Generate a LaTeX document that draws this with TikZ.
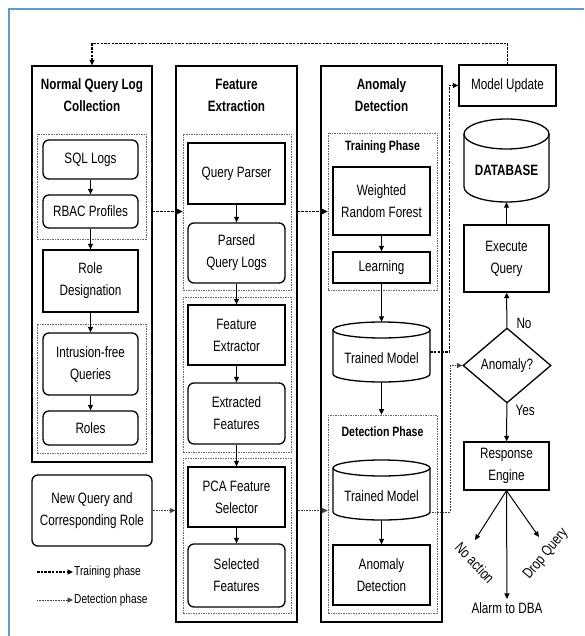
\documentclass[tikz,border=0pt]{standalone}
\usepackage{fontspec}
\setmainfont{Liberation Sans}[FakeStretch=0.78]
\usetikzlibrary{arrows.meta,shapes.geometric,calc}
\definecolor{frameblue}{RGB}{91,155,213}
\newcommand\myfs{\fontsize{15}{22}\selectfont}
\newcommand\mysm{\fontsize{13}{17}\selectfont}
\newcommand\mygl{\fontsize{13.5}{17}\selectfont}
\newcommand\drawcyl[5]{% cx, top, w, h, ry
  \draw[cylline, fill=white] (#1-#3/2,#2+#5) -- (#1-#3/2,#2+#4-#5)
     arc[start angle=180,end angle=360,x radius={#3*0.5pt},y radius={#5*1pt}] -- (#1+#3/2,#2+#5);
  \draw[cylline, fill=white] (#1,#2+#5) ellipse[x radius={#3*0.5pt},y radius={#5*1pt}];
}
\tikzset{
 pbox/.style={draw, line width=1.3pt, align=center, font=\myfs, inner sep=2pt},
 rbox/.style={pbox, rounded corners=6pt},
 sz/.style 2 args={minimum width=#1pt, minimum height=#2pt},
 colbox/.style={draw, line width=1.3pt},
 grp/.style={draw, black!60, line width=0.6pt, dash pattern=on 1.5pt off 1pt},
 coltitle/.style={font=\bfseries\myfs, align=center},
 grplabel/.style={font=\bfseries\mygl},
 arr/.style={-{Triangle[length=5.5pt,width=5pt]}, line width=1pt},
 train/.style={-{Triangle[length=5.5pt,width=5pt]}, line width=1.1pt, dash pattern=on 2.5pt off 1.2pt},
 detect/.style={-{Triangle[length=5.5pt,width=5pt]}, line width=0.8pt, dash pattern=on 0.8pt off 0.8pt, draw=black!75},
 cylline/.style={line width=1.3pt},
 cyl/.style={align=center, font=\myfs, inner sep=0pt},
}
\begin{document}
\begin{tikzpicture}[x=1pt,y=-1pt]
\useasboundingbox (0,0) rectangle (584,636);
\draw[frameblue, line width=2pt] (9,636) -- (9,9) -- (584,9);

% column 1
\node[colbox, sz={120}{396}] (c1) at (92,264) {};
\node[coltitle] (t1) at (92,95) {Normal Query Log\\Collection};
\node[grp, sz={109}{105}] (g1) at (91.5,186.5) {};
\node[rbox, sz={95}{39}] (sql) at (90.5,159.5) {SQL Logs};
\node[rbox, sz={95}{33}] (rbac) at (90.5,211.5) {RBAC Profiles};
\node[pbox, sz={95}{62}] (role) at (90.5,281) {Role\\Designation};
\node[grp, sz={109}{129}] (g2) at (91.5,388.5) {};
\node[rbox, sz={95}{62}] (intr) at (90.5,364) {Intrusion-free\\Queries};
\node[rbox, sz={95}{34}] (roles) at (90.5,428) {Roles};
\node[rbox, sz={120}{71}] (newq) at (92,510.5) {New Query and\\Corresponding Role};

% column 2
\node[colbox, sz={121}{556}] (c2) at (236.5,344) {};
\node[coltitle] (t2) at (236.5,95) {Feature\\Extraction};
\node[grp, sz={108}{156}] (ga) at (237,212) {};
\node[pbox, sz={97}{61}] (qp) at (236.5,173.5) {Query Parser};
\node[rbox, sz={97}{60}] (pql) at (236.5,253) {Parsed\\Query Logs};
\node[grp, sz={108}{155}] (gb) at (237,374.5) {};
\node[pbox, sz={97}{60}] (fe) at (236.5,335) {Feature\\Extractor};
\node[rbox, sz={97}{61}] (ef) at (236.5,413.5) {Extracted\\Features};
\node[grp, sz={108}{155}] (gc) at (237,535.5) {};
\node[pbox, sz={97}{60}] (pca) at (236.5,497) {PCA Feature\\Selector};
\node[rbox, sz={97}{63}] (sf) at (236.5,575.5) {Selected\\Features};

% column 3
\node[colbox, sz={121}{556}] (c3) at (381.5,344) {};
\node[coltitle] (t3) at (381.5,95) {Anomaly\\Detection};
\node[grp, sz={109}{157}] (gtr) at (382.5,211.5) {};
\node[grplabel] (ltr) at (382.5,147) {Training Phase};
\node[pbox, sz={97}{68}] (wrf) at (381.5,201) {Weighted\\Random Forest};
\node[pbox, sz={97}{31}] (learn) at (381.5,267.5) {Learning};
\drawcyl{381.5}{322}{97}{60}{8}
\node[cyl, sz={97}{60}, text height=23pt, text depth=0pt] (tm1) at (381.5,352) {Trained Model};
\node[grp, sz={109}{198}] (gdet) at (382.5,514) {};
\node[grplabel] (ldet) at (382.5,432) {Detection Phase};
\drawcyl{381.5}{460}{97}{60}{8}
\node[cyl, sz={97}{60}, text height=23pt, text depth=0pt] (tm2) at (381.5,490) {Trained Model};
\node[pbox, sz={97}{60}] (ad) at (381.5,575) {Anomaly\\Detection};

% column 4
\node[pbox, sz={97}{41}] (mu) at (507.5,85.5) {Model Update};
\drawcyl{506.5}{119}{85}{83}{15}
\node[cyl, sz={85}{83}, font=\bfseries\myfs, text height=30pt, text depth=0pt] (db) at (506.5,160.5) {DATABASE};
\node[pbox, sz={85}{67}] (ex) at (506.5,258.5) {Execute\\Query};
\node[diamond, draw, line width=1.3pt, sz={88}{75}, aspect=1.17, inner sep=0pt, font=\myfs] (dia) at (507,365.5) {Anomaly?};
\node[pbox, sz={85}{48}] (re) at (506.5,466) {Response\\Engine};
\node[font=\myfs] (alarm) at (507,608) {Alarm to DBA};
\coordinate (na) at (475,540);
\coordinate (dq) at (539,537);
\node[font=\myfs, rotate=-47, inner sep=0pt] (lna) at (475,563) {No action};
\node[font=\myfs, rotate=50, inner sep=0pt] (ldq) at (546,554) {Drop Query};
\node[font=\myfs, anchor=west] (lno) at (513,323) {No};
\node[font=\myfs, anchor=west] (lyes) at (512,410) {Yes};

% solid arrows
\draw[arr] (sql) -- (rbac);
\draw[arr] (rbac) -- (role);
\draw[arr] (role) -- (intr);
\draw[arr] (intr) -- (roles);
\draw[arr] (qp) -- (pql);
\draw[arr] (pql) -- (fe);
\draw[arr] (fe) -- (ef);
\draw[arr] (ef) -- (pca);
\draw[arr] (pca) -- (sf);
\draw[arr] (wrf) -- (learn);
\draw[arr] (learn) -- (tm1);
\draw[arr] (tm1.south) -- (tm1.south |- gdet.north);
\draw[arr] (tm2) -- (ad);
\draw[arr] (ex) -- (db);
\draw[arr] (dia) -- (ex);
\draw[arr] (dia) -- (re);
\draw[arr] (re.south) -- (na);
\draw[arr] (re.south) -- (alarm);
\draw[arr] (re.south) -- (dq);

% training phase connectors
\draw[train] (mu.north) -- ++(0,-21) -| (c1.north);
\draw[train] (rbac.east -| c1.east) -- (rbac.east -| ga.west);
\draw[train] (rbac.east -| c2.east) -- (rbac.east -| gtr.west);
\draw[train] (tm1.east) -- ++(19,0) |- (mu.west);

% detection phase connectors
\draw[detect] (newq.east) -- (newq.east -| c2.west);
\draw[detect] (newq.east -| c2.east) -- (newq.east -| gdet.west);
\draw[detect] ([yshift=-22pt]tm2.east) -- ++(20,0) |- (dia.west);

% legend
\coordinate (lg1) at (37,572);
\node[font=\mysm, anchor=west, inner sep=1pt] (lt1) at (73,572) {Training phase};
\draw[train] (lg1) -- (lt1.west);
\coordinate (lg2) at (37,600);
\node[font=\mysm, anchor=west, inner sep=1pt] (lt2) at (73,600) {Detection phase};
\draw[detect] (lg2) -- (lt2.west);
\end{tikzpicture}
\end{document}
